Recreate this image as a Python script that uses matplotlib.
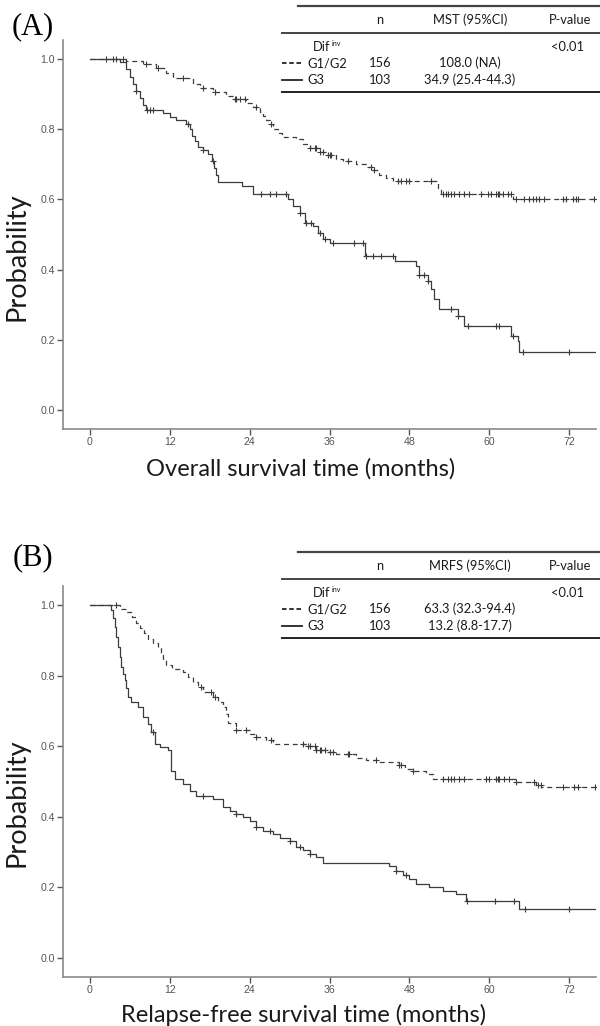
import numpy as np
import matplotlib.pyplot as plt
from matplotlib.lines import Line2D
from matplotlib.transforms import Affine2D

# ---------------- data ----------------
# (A) overall survival, step times (months) and survival after each step
os_g12_t = [0, 5.5, 8.0, 10.0, 11.5, 12.5, 15.5, 16.5, 18.5, 20.5, 21.5, 23.5, 24.5,
            25.5, 26.0, 26.5, 27.0, 27.5, 28.2, 28.8, 31.0, 32.0, 33.0, 34.5, 35.5,
            37.0, 38.0, 40.0, 41.5, 42.5, 43.5, 44.5, 45.5, 52.3, 52.8, 63.5]
os_g12_s = [1.0, 0.993, 0.987, 0.974, 0.96, 0.945, 0.93, 0.917, 0.907, 0.895, 0.885,
            0.874, 0.862, 0.85, 0.838, 0.826, 0.814, 0.80, 0.789, 0.779, 0.771, 0.758,
            0.746, 0.736, 0.727, 0.716, 0.708, 0.70, 0.691, 0.683, 0.67, 0.66, 0.651,
            0.633, 0.614, 0.60]
os_g12_cens = [2.5, 3.5, 4.0, 5.0, 8.5, 10.25, 14, 17, 18.75, 21.75, 22, 22.5, 23.25,
               25, 27.25, 33, 33.75, 34, 34.5, 35, 35.75, 36, 36.25, 38.75, 42.25,
               42.75, 46.25, 46.75, 47.5, 48, 51.25, 53, 53.5, 53.75, 54.25, 54.75,
               55.5, 56.25, 57, 58.75, 59.75, 60.25, 61, 61.25, 61.5, 62, 62.75, 63.25,
               64, 65.25, 66, 66.5, 67, 67.5, 68.25, 71, 71.5, 72.5, 73, 73.25, 75.75]
os_g12_end = 80

os_g3_t = [0, 4.5, 5.5, 6.0, 6.5, 7.0, 7.5, 8.0, 8.5, 11.0, 12.0, 13.0, 14.5, 15.0,
           15.3, 15.8, 16.3, 17.0, 17.8, 18.3, 18.6, 19.0, 19.2, 22.8, 24.5, 29.75,
           30.5, 31.5, 32.25, 33.5, 34.25, 35.0, 36.0, 41.3, 45.8, 49.0, 49.5, 50.75,
           51.25, 51.75, 52.5, 55.25, 56.25, 63.25, 64.25, 64.5]
os_g3_s = [1.0, 0.99, 0.97, 0.95, 0.93, 0.91, 0.89, 0.87, 0.855, 0.845, 0.835, 0.825,
           0.815, 0.80, 0.78, 0.765, 0.75, 0.74, 0.73, 0.71, 0.69, 0.67, 0.65, 0.637,
           0.614, 0.60, 0.58, 0.562, 0.534, 0.525, 0.505, 0.486, 0.476, 0.44, 0.424,
           0.41, 0.386, 0.367, 0.344, 0.315, 0.287, 0.268, 0.24, 0.211, 0.197, 0.164]
os_g3_cens = [7.0, 8.6, 9.0, 9.5, 14.75, 17, 18.5, 25.75, 27, 28, 29.5, 31.5, 32.5,
              33.25, 34.5, 35.25, 36.5, 39.75, 41, 41.5, 42.5, 43.75, 45.5, 49.5, 50.25,
              50.75, 54.25, 55.25, 56.75, 61, 61.5, 63.5, 65, 71.9]
os_g3_end = 80

# (B) relapse-free survival
rfs_g12_t = [0, 4.5, 5.5, 6.3, 7.0, 7.6, 8.2, 8.8, 9.5, 10.2, 10.7, 11.0, 11.5, 12.3,
             14.0, 14.8, 15.5, 16.3, 17.0, 18.5, 19.3, 20.0, 20.4, 20.8, 22.0, 24.0,
             25.0, 26.5, 27.5, 32.5, 34.0, 35.5, 37.0, 40.0, 41.5, 43.5, 46.5, 47.3,
             48.5, 50.5, 51.5, 64.0, 67.0, 67.8]
rfs_g12_s = [1.0, 0.99, 0.98, 0.965, 0.95, 0.935, 0.92, 0.905, 0.893, 0.88, 0.86,
             0.844, 0.83, 0.82, 0.81, 0.796, 0.782, 0.768, 0.754, 0.74, 0.725, 0.711,
             0.69, 0.665, 0.645, 0.636, 0.626, 0.617, 0.607, 0.60, 0.59, 0.583, 0.577,
             0.568, 0.56, 0.555, 0.548, 0.536, 0.53, 0.52, 0.508, 0.498, 0.49, 0.484]
rfs_g12_cens = [4.0, 16.75, 18.25, 18.75, 22, 23.5, 25, 27.25, 32, 32.75, 33, 33.75,
                34, 34.5, 34.75, 35.25, 36, 36.5, 38.75, 39, 43, 46.5, 46.75, 48.5, 53,
                53.75, 54.25, 54.75, 55.5, 56.25, 59.5, 60, 61, 61.25, 61.5, 62.25, 63,
                64, 66.75, 67.25, 67.75, 71, 72.75, 73.25, 75.9]
rfs_g12_end = 80

rfs_g3_t = [0, 3.25, 3.5, 3.75, 4.0, 4.25, 4.5, 4.75, 5.0, 5.25, 5.5, 5.75, 6.25,
            7.25, 8.0, 8.75, 9.25, 9.75, 10.5, 11.75, 12.25, 12.75, 14.0, 15.0, 16.0,
            18.5, 20.0, 21.0, 22.0, 23.0, 24.0, 25.0, 26.0, 27.5, 28.5, 30.0, 31.0,
            32.0, 33.0, 34.0, 35.0, 45.0, 46.0, 47.0, 48.0, 49.0, 51.0, 53.0, 55.0,
            56.5, 64.5]
rfs_g3_s = [1.0, 0.986, 0.962, 0.938, 0.91, 0.88, 0.852, 0.825, 0.806, 0.787, 0.765,
            0.74, 0.725, 0.711, 0.683, 0.664, 0.64, 0.607, 0.597, 0.588, 0.531, 0.508,
            0.493, 0.474, 0.46, 0.45, 0.427, 0.417, 0.407, 0.398, 0.388, 0.37, 0.36,
            0.35, 0.34, 0.33, 0.315, 0.305, 0.295, 0.285, 0.27, 0.26, 0.245, 0.235,
            0.225, 0.21, 0.2, 0.19, 0.18, 0.162, 0.14]
rfs_g3_cens = [9.5, 17, 22, 25, 27, 30, 31.5, 33, 46, 47.5, 56.6, 60.8, 63.7, 65.3, 72]
rfs_g3_end = 80

x_ticks = [0, 12, 24, 36, 48, 60, 72]
y_ticks = [0.0, 0.2, 0.4, 0.6, 0.8, 1.0]

groups = ["G1/G2", "G3"]
n_patients = ["156", "103"]
os_mst = ["108.0 (NA)", "34.9 (25.4-44.3)"]
rfs_mrfs = ["63.3 (32.3-94.4)", "13.2 (8.8-17.7)"]
p_value = "<0.01"

# ---------------- figure ----------------
W, H = 600, 1026
fig = plt.figure(figsize=(W / 100, H / 100), dpi=100)
fig.patch.set_facecolor("white")
# pixel coordinates (origin top-left) for annotations
pix = Affine2D().scale(1 / W, -1 / H).translate(0, 1) + fig.transFigure

LINE = "#3c3c3c"
SPINE = "#8a8a8a"
TXT = "#1a1a1a"
LABEL_FONT = ["Lato", "DejaVu Sans"]
TABLE_FS = 9.3


def draw_curve(ax, t, s, cens, end, dashed):
    t = np.asarray(t, float)
    s = np.asarray(s, float)
    tt = np.append(t, end)
    ss = np.append(s, s[-1])
    ls = (0, (4, 3)) if dashed else "-"
    ax.step(tt, ss, where="post", color=LINE, lw=0.9, ls=ls, zorder=3)
    c = np.asarray(cens, float)
    idx = np.searchsorted(t, c, side="right") - 1
    ax.plot(c, s[idx], "+", color=LINE, ms=5, mew=0.8, zorder=4, ls="none")


def style_axes(ax):
    ax.set_xlim(-4, 76)
    ax.set_ylim(-0.054, 1.054)
    ax.set_xticks(x_ticks)
    ax.set_yticks(y_ticks)
    ax.set_xticklabels([str(v) for v in x_ticks])
    ax.set_yticklabels([f"{v:.1f}" for v in y_ticks])
    for side in ["top", "right"]:
        ax.spines[side].set_visible(False)
    for side in ["left", "bottom"]:
        ax.spines[side].set_color(SPINE)
        ax.spines[side].set_linewidth(1.2)
    ax.tick_params(axis="both", direction="out", length=4, width=1.0, color="#555555",
                   labelsize=7.6, labelcolor="#555555", pad=2)
    for lab in ax.get_xticklabels() + ax.get_yticklabels():
        lab.set_family("Liberation Sans")


def draw_table(top, header):
    rows = [top, top + 14, top + 27, top + 41, top + 57, top + 74, top + 86]
    x0, x1 = 282, 600
    fig.add_artist(Line2D([x0 + 16, x1], [rows[0], rows[0]], transform=pix,
                          color="#444444", lw=1.6))
    fig.add_artist(Line2D([x0, x1], [rows[2], rows[2]], transform=pix,
                          color="#444444", lw=1.4))
    fig.add_artist(Line2D([x0, x1], [rows[6], rows[6]], transform=pix,
                          color="#222222", lw=1.4))
    kw = dict(transform=pix, fontsize=TABLE_FS, color=TXT, va="center", family=LABEL_FONT)
    fig.text(380, rows[1], "n", ha="center", **kw)
    fig.text(470, rows[1], header, ha="center", **kw)
    fig.text(570, rows[1], "P-value", ha="center", **kw)
    fig.text(313, rows[3], "Dif", ha="left", **kw)
    fig.text(332, rows[3] - 3, "inv", ha="left", transform=pix, fontsize=5.2,
             color=TXT, va="center", family=LABEL_FONT)
    fig.text(568, rows[3], p_value, ha="center", **kw)
    return rows[4], rows[5]


def draw_rows(r1, r2, values):
    kw = dict(transform=pix, fontsize=TABLE_FS, color=TXT, va="center", family=LABEL_FONT)
    for y, dashed, g, n, v in zip([r1, r2], [True, False], groups, n_patients, values):
        fig.add_artist(Line2D([282, 302], [y, y], transform=pix, color="#222222",
                              lw=1.3, ls=(0, (2.5, 1.5)) if dashed else "-"))
        fig.text(307, y, g, ha="left", **kw)
        fig.text(380, y, n, ha="center", **kw)
        fig.text(470, y, v, ha="center", **kw)


# panel A
axA = fig.add_axes([63 / W, 1 - 429 / H, (596 - 63) / W, (429 - 40) / H])
draw_curve(axA, os_g12_t, os_g12_s, os_g12_cens, os_g12_end, True)
draw_curve(axA, os_g3_t, os_g3_s, os_g3_cens, os_g3_end, False)
style_axes(axA)

# panel B
axB = fig.add_axes([63 / W, 1 - 977 / H, (596 - 63) / W, (977 - 586) / H])
draw_curve(axB, rfs_g12_t, rfs_g12_s, rfs_g12_cens, rfs_g12_end, True)
draw_curve(axB, rfs_g3_t, rfs_g3_s, rfs_g3_cens, rfs_g3_end, False)
style_axes(axB)

# tables
r1, r2 = draw_table(6, "MST (95%CI)")
draw_rows(r1, r2, os_mst)
r1, r2 = draw_table(552, "MRFS (95%CI)")
draw_rows(r1, r2, rfs_mrfs)

# labels
fig.text(33, 27, "(A)", transform=pix, fontsize=22, family="Liberation Serif",
         ha="center", va="center", color="black")
fig.text(33, 558, "(B)", transform=pix, fontsize=22, family="Liberation Serif",
         ha="center", va="center", color="black")
fig.text(17, 257, "Probability", transform=pix, fontsize=19.5, rotation=90,
         ha="center", va="center", family=LABEL_FONT, color=TXT)
fig.text(17, 803, "Probability", transform=pix, fontsize=19.5, rotation=90,
         ha="center", va="center", family=LABEL_FONT, color=TXT)
fig.text(301, 469, "Overall survival time (months)", transform=pix, fontsize=17,
         ha="center", va="center", family=LABEL_FONT, color=TXT)
fig.text(304, 1015, "Relapse-free survival time (months)", transform=pix, fontsize=17,
         ha="center", va="center", family=LABEL_FONT, color=TXT)

fig.savefig("out.png", dpi=100, facecolor="white")
